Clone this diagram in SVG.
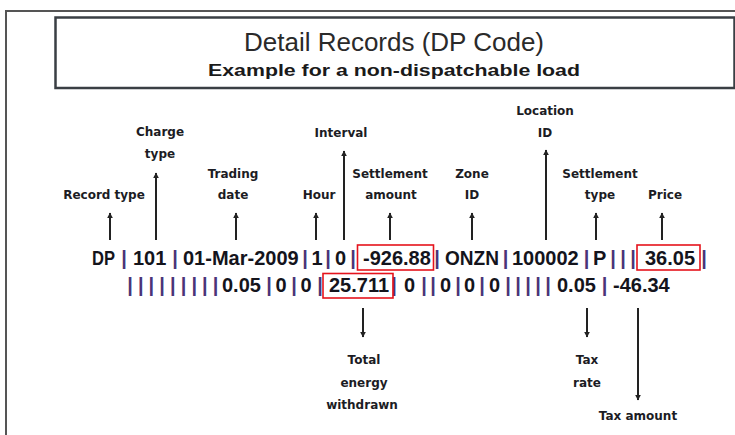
<svg xmlns="http://www.w3.org/2000/svg" width="735" height="435" viewBox="0 0 735 435">
<style>
.lbl{font-family:"DejaVu Sans","Liberation Sans",sans-serif;font-weight:bold;font-size:12px;fill:#1c1c24;text-anchor:middle}
.d{font-family:"Liberation Sans",Arial,sans-serif;font-weight:bold;font-size:20px;fill:#14141c}
.pp{font-family:"Liberation Sans",Arial,sans-serif;font-weight:bold;font-size:20px;fill:#4a3478;text-anchor:middle}
.arr{stroke:#222;stroke-width:2;fill:none;marker-end:url(#ah)}
.hl{fill:none;stroke:#e5131c;stroke-width:1.6}
</style>
<defs>
<marker id="ah" viewBox="0 0 10 10" refX="9" refY="5" markerWidth="3" markerHeight="3.2" orient="auto" markerUnits="strokeWidth">
<path d="M0,0 L10,5 L0,10 Z" fill="#222"/>
</marker>
</defs>
<rect width="735" height="435" fill="#fff"/>
<path d="M6,435 V11 H735" fill="none" stroke="#555" stroke-width="2"/>
<g id="title">
<rect x="55.5" y="17.5" width="679" height="70.5" fill="#fff" stroke="#3a3f44" stroke-width="2.5"/>
<text x="394" y="51" text-anchor="middle" font-family="Liberation Sans, Arial, sans-serif" font-size="25" fill="#2a2a2a" textLength="300" lengthAdjust="spacingAndGlyphs">Detail Records (DP Code)</text>
<text x="394" y="76" text-anchor="middle" font-family="Liberation Sans, Arial, sans-serif" font-weight="bold" font-size="16.5" fill="#1a1a1a" textLength="372" lengthAdjust="spacingAndGlyphs">Example for a non-dispatchable load</text>
</g>
<g id="connectors">
<line class="arr" x1="110" y1="240" x2="110" y2="213"/>
<line class="arr" x1="156" y1="240" x2="156" y2="173"/>
<line class="arr" x1="236" y1="240" x2="236" y2="213"/>
<line class="arr" x1="316" y1="240" x2="316" y2="213"/>
<line class="arr" x1="344" y1="240" x2="344" y2="151"/>
<line class="arr" x1="390" y1="240" x2="390" y2="213"/>
<line class="arr" x1="472" y1="240" x2="472" y2="213"/>
<line class="arr" x1="546" y1="240" x2="546" y2="150"/>
<line class="arr" x1="596" y1="240" x2="596" y2="213"/>
<line class="arr" x1="662" y1="240" x2="662" y2="213"/>
<line class="arr" x1="363" y1="308" x2="363" y2="337"/>
<line class="arr" x1="587" y1="308" x2="587" y2="337"/>
<line class="arr" x1="638" y1="308" x2="638" y2="400"/>
</g>
<g id="record-type"><text class="lbl" x="104" y="199">Record type</text></g>
<g id="charge-type"><text class="lbl" x="160" y="136">Charge</text><text class="lbl" x="160" y="158">type</text></g>
<g id="trading-date"><text class="lbl" x="233" y="178">Trading</text><text class="lbl" x="233" y="199">date</text></g>
<g id="hour"><text class="lbl" x="319" y="199">Hour</text></g>
<g id="interval"><text class="lbl" x="341" y="137">Interval</text></g>
<g id="settlement-amount"><text class="lbl" x="390" y="178">Settlement</text><text class="lbl" x="391" y="199">amount</text></g>
<g id="zone-id"><text class="lbl" x="472" y="178">Zone</text><text class="lbl" x="472" y="199">ID</text></g>
<g id="location-id"><text class="lbl" x="545" y="115">Location</text><text class="lbl" x="545" y="137">ID</text></g>
<g id="settlement-type"><text class="lbl" x="600" y="178">Settlement</text><text class="lbl" x="600" y="199">type</text></g>
<g id="price"><text class="lbl" x="665" y="199">Price</text></g>
<g id="total-energy"><text class="lbl" x="364" y="364">Total</text><text class="lbl" x="364" y="387">energy</text><text class="lbl" x="362" y="409">withdrawn</text></g>
<g id="tax-rate"><text class="lbl" x="587" y="364">Tax</text><text class="lbl" x="587" y="387">rate</text></g>
<g id="tax-amount"><text class="lbl" x="638" y="420">Tax amount</text></g>
<g id="record-line1">
<text class="d" x="92" y="265" textLength="23" lengthAdjust="spacingAndGlyphs">DP</text>
<text class="pp" x="124" y="265">|</text>
<text class="d" x="133" y="265">101</text>
<text class="pp" x="175" y="265">|</text>
<text class="d" x="183" y="265">01-Mar-2009</text>
<text class="pp" x="305" y="265">|</text>
<text class="d" x="311.5" y="265">1</text>
<text class="pp" x="328" y="265">|</text>
<text class="d" x="335" y="265">0</text>
<text class="pp" x="353" y="265">|</text>
<text class="d" x="363" y="265">-926.88</text>
<text class="pp" x="437" y="265">|</text>
<text class="d" x="445" y="265" textLength="54" lengthAdjust="spacingAndGlyphs">ONZN</text>
<text class="pp" x="505.5" y="265">|</text>
<text class="d" x="512" y="265">100002</text>
<text class="pp" x="586.5" y="265">|</text>
<text class="d" x="593" y="265">P</text>
<text class="pp" x="613" y="265">|</text>
<text class="pp" x="623" y="265">|</text>
<text class="pp" x="633" y="265">|</text>
<text class="d" x="645" y="265">36.05</text>
<text class="pp" x="704" y="265">|</text>
<rect class="hl" x="357.5" y="245" width="76" height="25"/>
<rect class="hl" x="637" y="245" width="63" height="25"/>
</g>
<g id="record-line2">
<text class="pp" x="130" y="292">|</text>
<text class="pp" x="140.7" y="292">|</text>
<text class="pp" x="151.4" y="292">|</text>
<text class="pp" x="162.1" y="292">|</text>
<text class="pp" x="172.8" y="292">|</text>
<text class="pp" x="183.5" y="292">|</text>
<text class="pp" x="194.2" y="292">|</text>
<text class="pp" x="204.9" y="292">|</text>
<text class="pp" x="215.6" y="292">|</text>
<text class="d" x="222" y="292">0.05</text>
<text class="pp" x="269" y="292">|</text>
<text class="d" x="275.5" y="292">0</text>
<text class="pp" x="294" y="292">|</text>
<text class="d" x="300.5" y="292">0</text>
<text class="pp" x="320" y="292">|</text>
<text class="d" x="329" y="292">25.711</text>
<text class="pp" x="394" y="292">|</text>
<text class="d" x="404" y="292">0</text>
<text class="pp" x="424" y="292">|</text>
<text class="pp" x="433" y="292">|</text>
<text class="d" x="440" y="292">0</text>
<text class="pp" x="458" y="292">|</text>
<text class="d" x="464" y="292">0</text>
<text class="pp" x="482" y="292">|</text>
<text class="d" x="489" y="292">0</text>
<text class="pp" x="508" y="292">|</text>
<text class="pp" x="518" y="292">|</text>
<text class="pp" x="528" y="292">|</text>
<text class="pp" x="538" y="292">|</text>
<text class="pp" x="548" y="292">|</text>
<text class="d" x="557" y="292">0.05</text>
<text class="pp" x="604.5" y="292">|</text>
<text class="d" x="613" y="292">-46.34</text>
<rect class="hl" x="323" y="273.5" width="70" height="24.5"/>
</g>
</svg>
